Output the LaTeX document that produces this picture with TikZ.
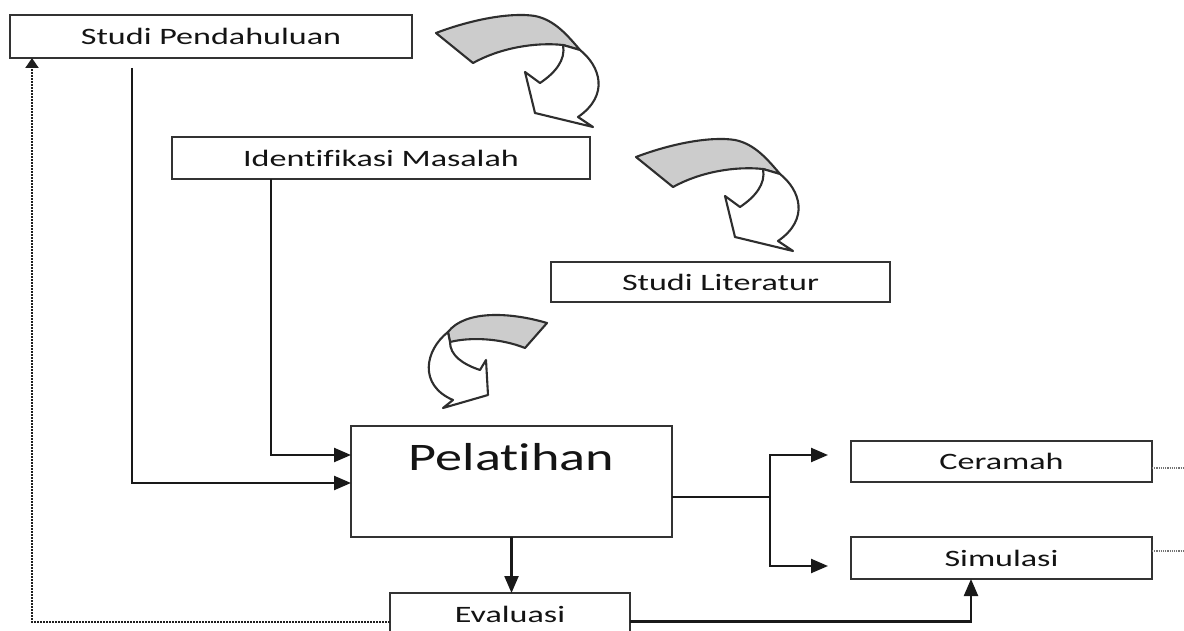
\documentclass[tikz,border=0pt]{standalone}
\usepackage{fontspec}
\usepackage{graphicx}
\setmainfont{Carlito}[Ligatures=NoCommon]
\usetikzlibrary{arrows.meta,calc}
\newcommand\boxfont{\fontsize{23.5}{28}\selectfont}
\newcommand\bigboxfont{\fontsize{39}{46}\selectfont}
\newcommand\widetxt[1]{\scalebox{1.45}[1]{#1}}
\newcommand\widebig[1]{\scalebox{1.39}[1]{#1}}
\begin{document}
\begin{tikzpicture}[x=1pt,y=-1pt,
  box/.style={draw=black!80,line width=2.3pt,fill=white,inner sep=0pt,outer sep=0pt,
              font=\boxfont,text=black!92},
  line/.style={draw=black!90,line width=2.3pt},
  conn/.style={line,-{Triangle[length=17pt,width=14pt]}},
  backconn/.style={draw=black!88,line width=2pt,dash pattern=on 1.6pt off 1.4pt,
              -{Triangle[length=10pt,width=13pt]}},
  tail/.style={draw=black!55,line width=1.1pt,dash pattern=on 1.2pt off 1pt},
  ribbon/.style={draw=black!82,line width=2.1pt,fill=gray!40,line join=round},
  curlbody/.style={draw=black!82,line width=2.1pt,fill=white,line join=round}]
\clip (0,0) rectangle (1184,631);
\fill[white] (0,0) rectangle (1184,631);

% process boxes
\node[box,minimum width=402pt,minimum height=43pt] (sp) at (211,36.5) {\widetxt{Studi Pendahuluan}};
\node[box,minimum width=418pt,minimum height=42pt] (im) at (381,158) {\widetxt{Identifikasi Masalah}};
\node[box,minimum width=339pt,minimum height=40pt] (sl) at (720.5,282) {\widetxt{Studi Literatur}};
\node[box,minimum width=321pt,minimum height=111pt,font=\bigboxfont,
      text height=27pt,text depth=50pt] (pel) at (511.5,481.5) {\widebig{Pelatihan}};
\node[box,minimum width=301pt,minimum height=41pt] (ce) at (1001.5,461.5) {\widetxt{Ceramah}};
\node[box,minimum width=301pt,minimum height=42pt] (si) at (1001.5,558) {\widetxt{Simulasi}};
\node[box,minimum width=240pt,minimum height=57pt,text height=17pt,text depth=16pt] (ev) at (510,621.5) {\widetxt{Evaluasi}};

% curved arrow between Studi Pendahuluan and Identifikasi Masalah, repeated lower right
\foreach \dx/\dy in {0/0,200/124}{
  \begin{scope}[shift={(\dx,\dy)}]
    \path[ribbon] (436,33) .. controls (470,20) and (510,12) .. (535,16)
      .. controls (555,20) and (568,36) .. (580,50) -- (563,45)
      .. controls (535,42) and (500,48) .. (473,63) -- cycle;
    \path[curlbody] (580,50) .. controls (600,66) and (610,95) .. (578,117)
      -- (593,127) -- (535,113) -- (525,72) -- (540,83)
      .. controls (555,73) and (566,60) .. (563,45) -- cycle;
  \end{scope}
}

% mirrored curved arrow above Pelatihan
\path[ribbon] (547,323) .. controls (510,312) and (465,310) .. (448,332) -- (450,342)
  .. controls (470,337) and (500,338) .. (525,348) -- cycle;
\path[curlbody] (448,332) .. controls (425,350) and (418,385) .. (453,400)
  -- (443,408) -- (488,395) -- (486,360) -- (480,370)
  .. controls (462,364) and (450,355) .. (450,342) -- cycle;

% inputs to Pelatihan
\draw[conn] ($(sp.south west)+(122,10)$) |- ($(pel.west)+(0,1.5)$);
\draw[conn] ($(im.south west)+(99,0)$) |- ($(pel.north west)+(0,29)$);

% branching to Ceramah and Simulasi
\coordinate (br) at ($(pel.east)+(98,15.5)$);
\draw[line] ($(pel.east)+(0,15.5)$) -- (br);
\draw[conn] (br) |- ($(ce.west)+(-23,-6.5)$);
\draw[conn] (br) |- ($(si.west)+(-23,8)$);

% evaluation
\draw[conn] (pel.south) -- (pel.south |- ev.north);
\draw[conn] (ev.east) -| ($(si.south)+(-30.5,0)$);
\draw[backconn] (ev.west) -| ($(sp.south west)+(22,0)$);

% dotted continuations to the right
\coordinate (ceout) at (1184,468);
\coordinate (siout) at (1184,551);
\draw[tail] (ce.east |- ceout) -- (ceout);
\draw[tail] (si.east |- siout) -- (siout);
\end{tikzpicture}
\end{document}
